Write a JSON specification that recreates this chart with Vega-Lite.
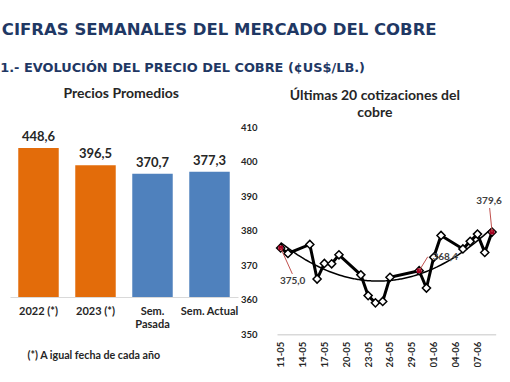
{
  "$schema": "https://vega.github.io/schema/vega-lite/v6.json",
  "padding": {"left": 0, "top": 22, "right": 0, "bottom": 0},
  "background": "white",
  "title": {"text": "CIFRAS SEMANALES DEL MERCADO DEL COBRE", "anchor": "start", "font": "DejaVu Sans", "fontSize": 16.5, "fontWeight": "bold", "color": "#1F3864", "dx": 1.6, "offset": 23.5},
  "datasets": {
    "barras": [
      {"cat": "2022 (*)", "valor": 448.6, "tipo": "anual"},
      {"cat": "2023 (*)", "valor": 396.5, "tipo": "anual"},
      {"cat": "Sem. Pasada", "valor": 370.7, "tipo": "semana"},
      {"cat": "Sem. Actual", "valor": 377.3, "tipo": "semana"}
    ],
    "precios": [
      {"fecha": "2023-05-11", "precio": 375.0},
      {"fecha": "2023-05-12", "precio": 373.4},
      {"fecha": "2023-05-15", "precio": 376.0},
      {"fecha": "2023-05-16", "precio": 366.0},
      {"fecha": "2023-05-17", "precio": 370.5},
      {"fecha": "2023-05-18", "precio": 370.4},
      {"fecha": "2023-05-19", "precio": 373.0},
      {"fecha": "2023-05-22", "precio": 367.2},
      {"fecha": "2023-05-23", "precio": 361.2},
      {"fecha": "2023-05-24", "precio": 359.1},
      {"fecha": "2023-05-25", "precio": 359.5},
      {"fecha": "2023-05-26", "precio": 366.5},
      {"fecha": "2023-05-30", "precio": 368.4},
      {"fecha": "2023-05-31", "precio": 363.4},
      {"fecha": "2023-06-01", "precio": 372.3},
      {"fecha": "2023-06-02", "precio": 378.6},
      {"fecha": "2023-06-05", "precio": 374.7},
      {"fecha": "2023-06-06", "precio": 376.9},
      {"fecha": "2023-06-07", "precio": 379.0},
      {"fecha": "2023-06-08", "precio": 373.7},
      {"fecha": "2023-06-09", "precio": 379.6}
    ],
    "notas": [
      {"fecha": "2023-05-11", "precio": 375.0},
      {"fecha": "2023-05-30", "precio": 368.4},
      {"fecha": "2023-06-09", "precio": 379.6}
    ]
  },
  "vconcat": [
    {
      "title": {"text": "1.- EVOLUCIÓN DEL PRECIO DEL COBRE (¢US$/LB.)", "anchor": "start", "font": "DejaVu Sans", "fontSize": 12.9, "fontWeight": "bold", "color": "#1F3864", "dx": -9.8, "offset": 12},
      "spacing": 2,
      "hconcat": [
        {
          "width": 228,
          "height": 170,
          "data": {"name": "barras"},
          "title": {"text": "Precios Promedios", "font": "Lato", "fontSize": 14, "fontWeight": "bold", "color": "#262626", "frame": "group", "dx": -2.8, "offset": 25.7},
          "encoding": {
            "x": {
              "field": "cat", "type": "nominal", "sort": null,
              "scale": {"paddingInner": 0.29, "paddingOuter": 0.145},
              "axis": {
                "labelAngle": 0, "ticks": false, "domainColor": "#D9D9D9", "domainWidth": 1,
                "labelFont": "Lato", "labelFontSize": 11, "labelFontWeight": "bold", "labelColor": "#262626",
                "labelPadding": 8, "labelLineHeight": 13.5,
                "labelExpr": "datum.label == 'Sem. Pasada' ? ['Sem.', 'Pasada'] : datum.label",
                "title": "(*) A igual fecha de cada año", "titleAnchor": "start", "titleAlign": "left", "titleX": 17,
                "titlePadding": 21, "titleFont": "Lato", "titleFontSize": 10.7, "titleFontWeight": "bold", "titleColor": "#262626"
              }
            },
            "y": {"field": "valor", "type": "quantitative", "scale": {"domain": [0, 511.7]}, "axis": null}
          },
          "layer": [
            {
              "mark": {"type": "bar"},
              "encoding": {
                "color": {"field": "tipo", "type": "nominal", "scale": {"domain": ["anual", "semana"], "range": ["#E36C0A", "#4F81BD"]}, "legend": null}
              }
            },
            {
              "mark": {"type": "text", "baseline": "bottom", "dy": -4, "font": "Lato", "fontSize": 13, "fontWeight": "bold", "color": "#262626"},
              "encoding": {"text": {"field": "valor", "type": "quantitative", "format": ".1f"}}
            }
          ]
        },
        {
          "width": 218.7,
          "height": 207.3,
          "data": {"name": "precios"},
          "title": {"text": ["Últimas 20 cotizaciones del", "cobre"], "font": "Lato", "fontSize": 14, "fontWeight": "bold", "color": "#262626", "lineHeight": 17, "frame": "group", "dx": -11.5, "offset": 2},
          "encoding": {
            "x": {
              "field": "fecha", "type": "temporal",
              "scale": {"type": "utc", "domain": [{"year": 2023, "month": 5, "date": 10, "hours": 12, "utc": true}, {"year": 2023, "month": 6, "date": 9, "hours": 12, "utc": true}]},
              "axis": {
                "title": null, "format": "%d-%m", "labelAngle": 270, "labelAlign": "right", "labelBaseline": "middle",
                "ticks": false, "grid": false, "domainColor": "#D9D9D9", "domainWidth": 1.5,
                "labelFont": "Lato", "labelFontSize": 9.5, "labelFontWeight": "bold", "labelColor": "#262626", "labelPadding": 7,
                "labelOverlap": false,
                "values": [
                  {"year": 2023, "month": 5, "date": 11, "utc": true},
                  {"year": 2023, "month": 5, "date": 14, "utc": true},
                  {"year": 2023, "month": 5, "date": 17, "utc": true},
                  {"year": 2023, "month": 5, "date": 20, "utc": true},
                  {"year": 2023, "month": 5, "date": 23, "utc": true},
                  {"year": 2023, "month": 5, "date": 26, "utc": true},
                  {"year": 2023, "month": 5, "date": 29, "utc": true},
                  {"year": 2023, "month": 6, "date": 1, "utc": true},
                  {"year": 2023, "month": 6, "date": 4, "utc": true},
                  {"year": 2023, "month": 6, "date": 7, "utc": true}
                ]
              }
            },
            "y": {
              "field": "precio", "type": "quantitative",
              "scale": {"domain": [350, 410], "nice": false, "zero": false},
              "axis": {
                "title": null, "values": [350, 360, 370, 380, 390, 400, 410], "grid": false, "ticks": false, "domain": false,
                "labelFont": "Lato", "labelFontSize": 9.5, "labelFontWeight": "bold", "labelColor": "#262626", "labelPadding": 20
              }
            }
          },
          "layer": [
            {
              "transform": [{"regression": "precio", "on": "fecha", "method": "poly", "order": 2}],
              "mark": {"type": "line", "color": "#000000", "strokeWidth": 1.5}
            },
            {
              "mark": {"type": "line", "color": "#000000", "strokeWidth": 3}
            },
            {
              "mark": {"type": "point", "shape": "diamond", "filled": true, "fill": "#FFFFFF", "stroke": "#000000", "strokeWidth": 1.5, "size": 66, "opacity": 1}
            },
            {
              "data": {"name": "notas"},
              "mark": {"type": "square", "color": "#A50021", "size": 22, "opacity": 1}
            },
            {
              "data": {"name": "notas"},
              "transform": [{"filter": "datum.precio == 375"}],
              "layer": [
                {"mark": {"type": "rule", "color": "#C0504D", "strokeWidth": 1, "x2Offset": 11.7, "y2Offset": 26}, "encoding": {"x2": {"field": "fecha"}, "y2": {"field": "precio"}}},
                {"mark": {"type": "text", "dx": 12, "dy": 33, "align": "center", "baseline": "middle", "font": "Lato", "fontSize": 10, "fontWeight": "bold", "color": "#404040"}, "encoding": {"text": {"field": "precio", "type": "quantitative", "format": ".1f"}}}
              ]
            },
            {
              "data": {"name": "notas"},
              "transform": [{"filter": "datum.precio == 368.4"}],
              "layer": [
                {"mark": {"type": "rule", "color": "#C0504D", "strokeWidth": 1, "x2Offset": 8.6, "y2Offset": -14}, "encoding": {"x2": {"field": "fecha"}, "y2": {"field": "precio"}}},
                {"mark": {"type": "text", "dx": 13.3, "dy": -13.5, "align": "left", "baseline": "middle", "font": "Lato", "fontSize": 10, "fontWeight": "bold", "color": "#404040"}, "encoding": {"text": {"field": "precio", "type": "quantitative", "format": ".1f"}}}
              ]
            },
            {
              "data": {"name": "notas"},
              "transform": [{"filter": "datum.precio == 379.6"}],
              "layer": [
                {"mark": {"type": "rule", "color": "#C0504D", "strokeWidth": 1, "x2Offset": -2.4, "y2Offset": -24}, "encoding": {"x2": {"field": "fecha"}, "y2": {"field": "precio"}}},
                {"mark": {"type": "text", "dx": -3, "dy": -31.4, "align": "center", "baseline": "middle", "font": "Lato", "fontSize": 10, "fontWeight": "bold", "color": "#404040"}, "encoding": {"text": {"field": "precio", "type": "quantitative", "format": ".1f"}}}
              ]
            }
          ]
        }
      ]
    }
  ],
  "config": {
    "view": {"stroke": null},
    "font": "Lato",
    "locale": {"number": {"decimal": ",", "thousands": ".", "grouping": [3], "currency": ["$", ""]}}
  }
}
